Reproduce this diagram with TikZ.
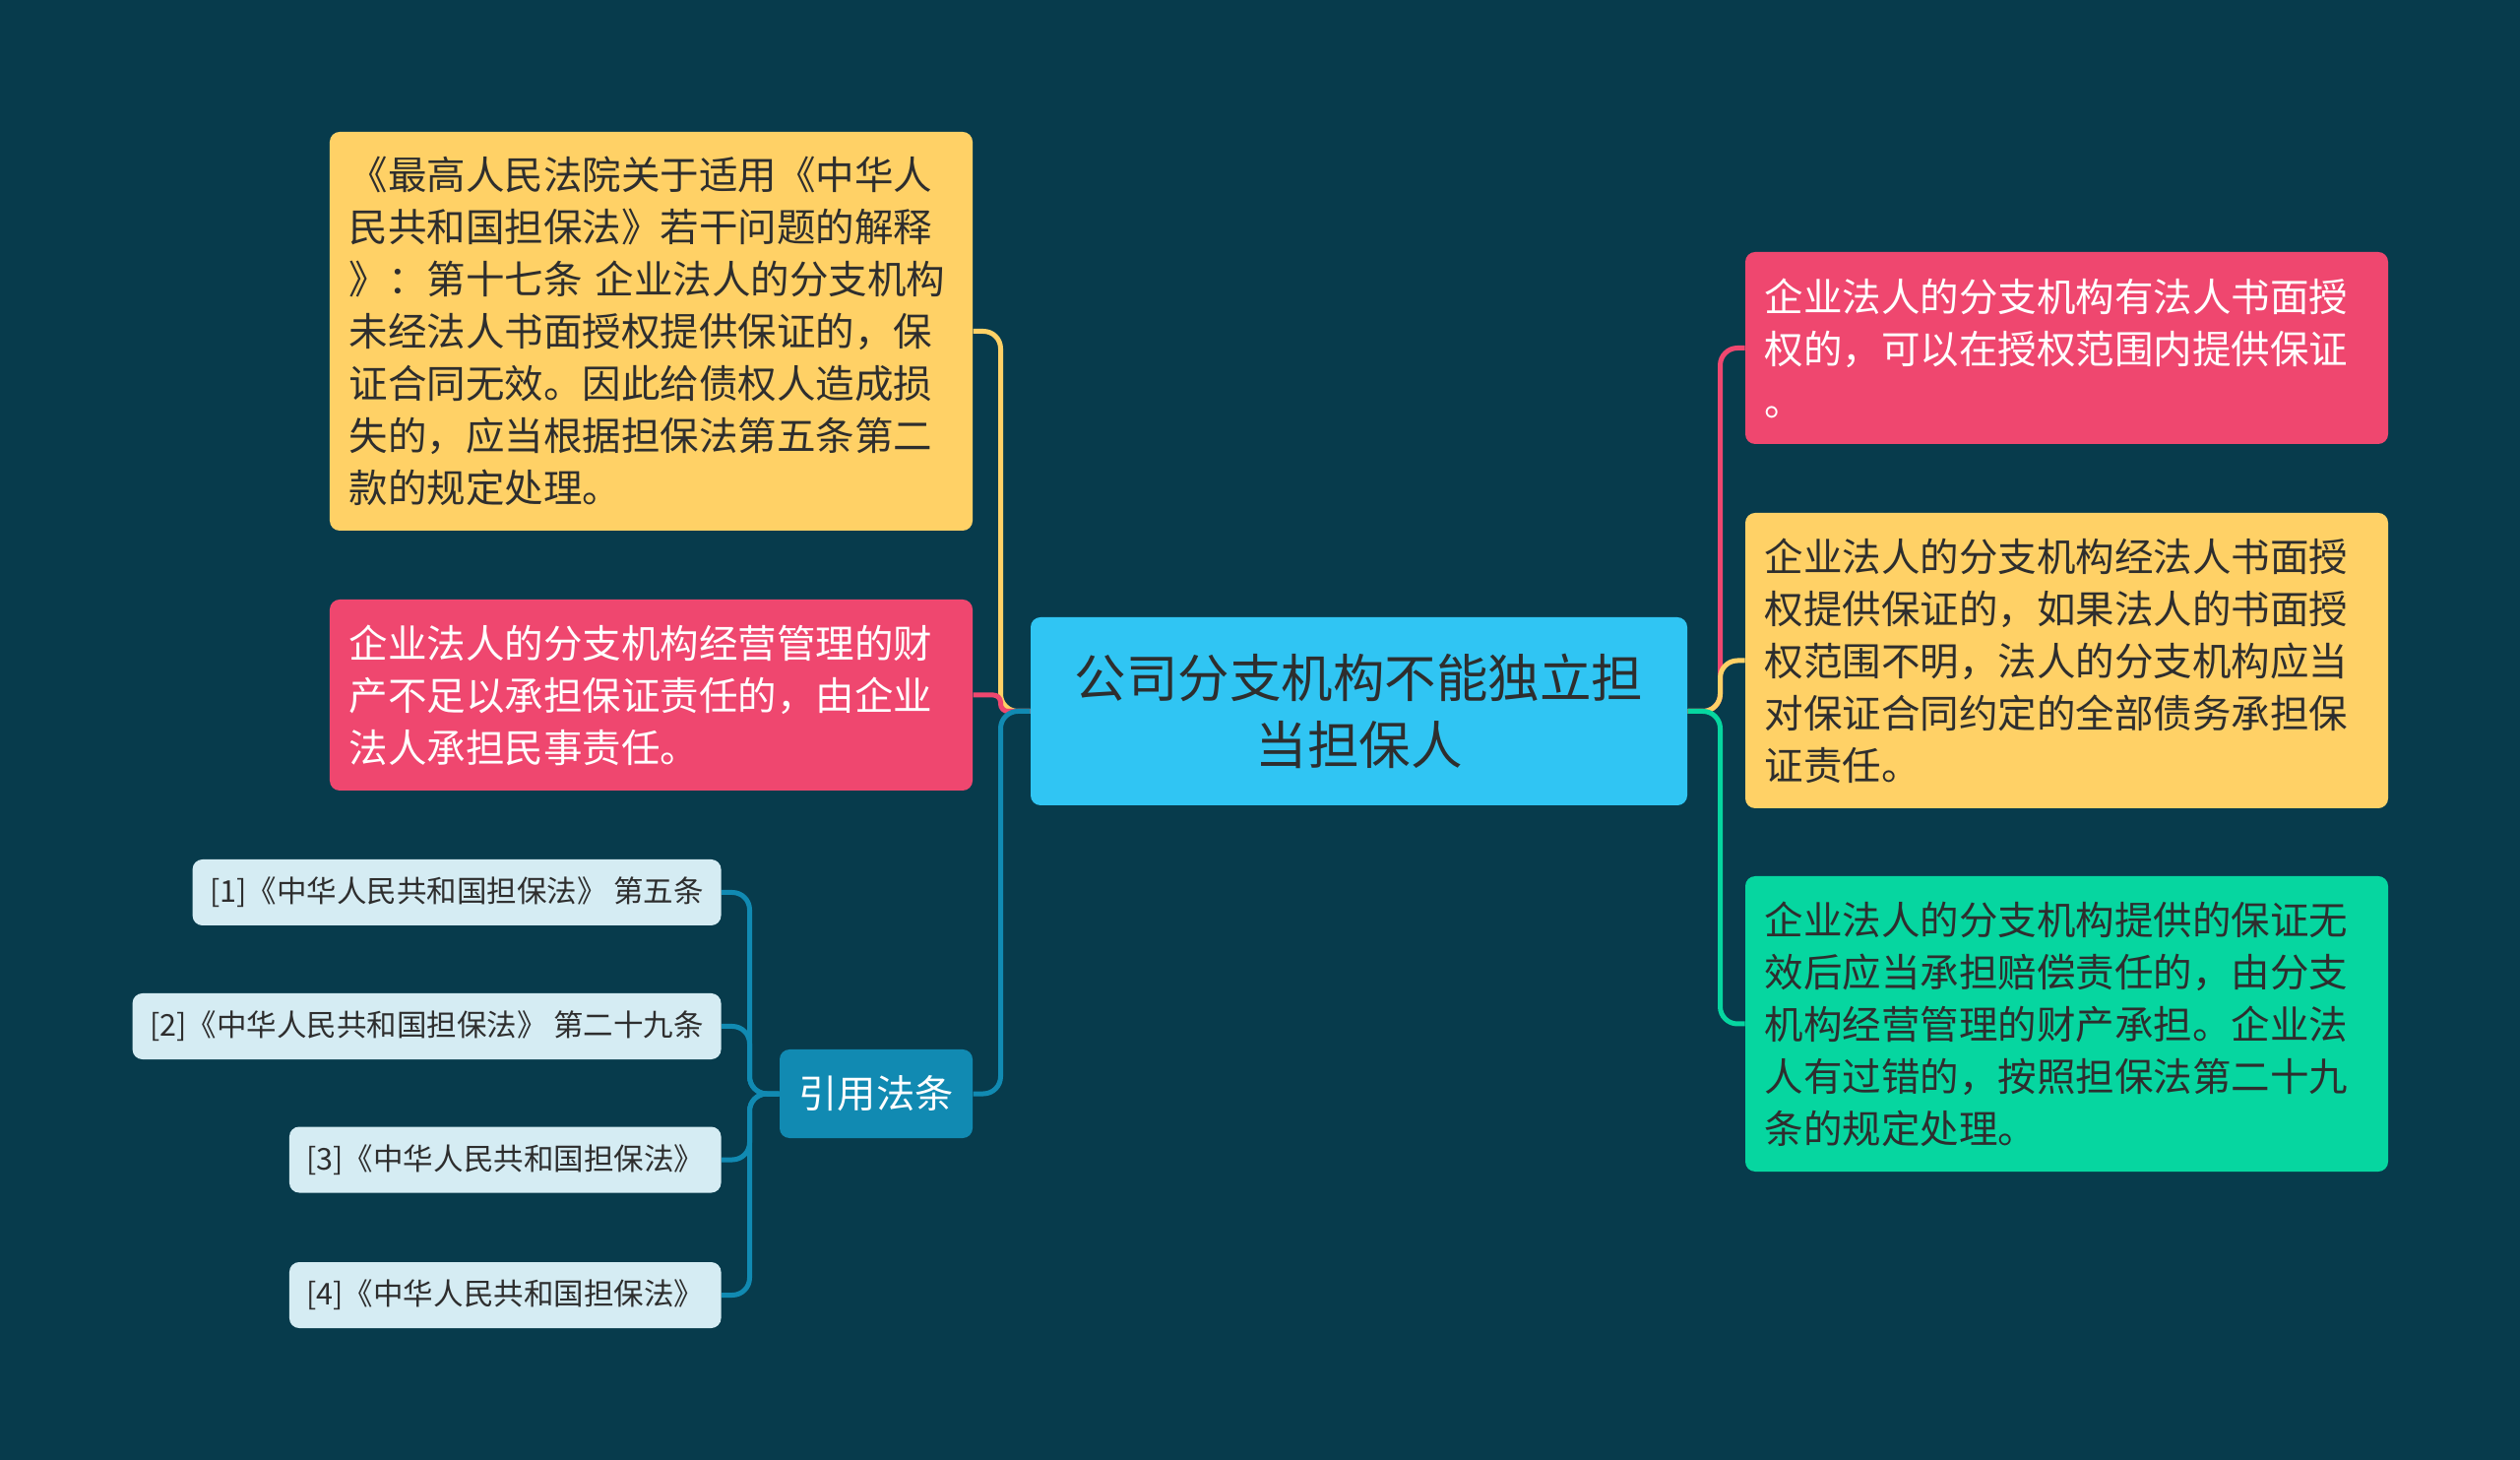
\documentclass[tikz,border=0pt]{standalone}
\usepackage{fontspec}
\setmainfont{Noto Sans CJK SC}
\usepackage{xcolor}
\definecolor{cBg}{HTML}{073B4C}
\definecolor{cHub}{HTML}{30C5F3}
\definecolor{cYellow}{HTML}{FFD166}
\definecolor{cPink}{HTML}{EF476F}
\definecolor{cGreen}{HTML}{06D6A0}
\definecolor{cBlue}{HTML}{118AB2}
\definecolor{cLight}{HTML}{D5ECF3}
\definecolor{cText}{HTML}{2E2E2E}
\tikzset{
  node-hub/.style={fill=cHub,rounded corners=4pt,text=cText,align=center,
    minimum width=266.8pt,minimum height=76.4pt,inner sep=0pt,
    font=\fontsize{21pt}{27.4pt}\selectfont},
  node-leaf/.style={rounded corners=4pt,text=cText,align=left,
    text width=245.6pt,inner xsep=7.8pt,inner ysep=0pt,
    font=\fontsize{15.8pt}{21.2pt}\selectfont},
  node-yellow/.style={fill=cYellow},
  node-pink/.style={fill=cPink,text=white},
  node-green/.style={fill=cGreen},
  node-cite/.style={fill=cBlue,text=white,rounded corners=4pt,
    minimum width=78.4pt,minimum height=36pt,inner sep=0pt,
    font=\fontsize{15.7pt}{18pt}\selectfont},
  % 引用条目：浅色小框，右端对齐
  node-ref/.style={fill=cLight,text=cText,rounded corners=4pt,anchor=east,
    minimum height=26.8pt,inner xsep=7pt,inner ysep=0pt,
    font=\fontsize{12.2pt}{14pt}\selectfont},
  link/.style={line width=2pt,rounded corners=7pt},
}

\begin{document}
\begin{tikzpicture}[x=0.4pt,y=-0.4pt]
  \fill[cBg] (0,0) rectangle (2560,1483);
  \node[node-hub] (hub) at (1380.5,722.5) {公司分支机构不能独立担\\当担保人};
  % 左侧
  \node[node-leaf,node-yellow,minimum height=162pt] (law) at (661.5,336.5)
    {《最高人民法院关于适用《中华人\\民共和国担保法》若干问题的解释\\》：第十七条~企业法人的分支机构\\未经法人书面授权提供保证的，保\\证合同无效。因此给债权人造成损\\失的，应当根据担保法第五条第二\\款的规定处理。};
  \node[node-leaf,node-pink,minimum height=77.6pt] (lack) at (661.5,706)
    {企业法人的分支机构经营管理的财\\产不足以承担保证责任的，由企业\\法人承担民事责任。};
  \node[node-cite] (cite) at (890,1111) {引用法条};
  \node[node-ref] (ref1) at (733,906.5) {[1]《中华人民共和国担保法》 第五条};
  \node[node-ref] (ref2) at (733,1042.5) {[2]《中华人民共和国担保法》 第二十九条};
  \node[node-ref] (ref3) at (733,1178) {[3]《中华人民共和国担保法》};
  \node[node-ref] (ref4) at (733,1315.5) {[4]《中华人民共和国担保法》};
  % 右侧
  \node[node-leaf,node-pink,minimum height=78pt] (auth) at (2099.5,353.5)
    {企业法人的分支机构有法人书面授\\权的，可以在授权范围内提供保证\\。};
  \node[node-leaf,node-yellow,minimum height=120pt] (scope) at (2099.5,671)
    {企业法人的分支机构经法人书面授\\权提供保证的，如果法人的书面授\\权范围不明，法人的分支机构应当\\对保证合同约定的全部债务承担保\\证责任。};
  \node[node-leaf,node-green,minimum height=120pt] (void) at (2099.5,1040)
    {企业法人的分支机构提供的保证无\\效后应当承担赔偿责任的，由分支\\机构经营管理的财产承担。企业法\\人有过错的，按照担保法第二十九\\条的规定处理。};

  \draw[link,cYellow] (hub.west) -- ++(-30,0) |- (law.east);
  \draw[link,cPink,rounded corners=3pt] (hub.west) -- ++(-30,0) |- (lack.east);
  \draw[link,cBlue] (hub.west) -- ++(-30,0) |- (cite.east);
  \foreach \r in {ref1,ref2,ref3,ref4}
    \draw[link,cBlue] (cite.west) -- ++(-30,0) |- (\r.east);
  \draw[link,cPink] (hub.east) -- ++(33,0) |- (auth.west);
  \draw[link,cYellow] (hub.east) -- ++(33,0) |- (scope.west);
  \draw[link,cGreen] (hub.east) -- ++(33,0) |- (void.west);
\end{tikzpicture}
\end{document}
